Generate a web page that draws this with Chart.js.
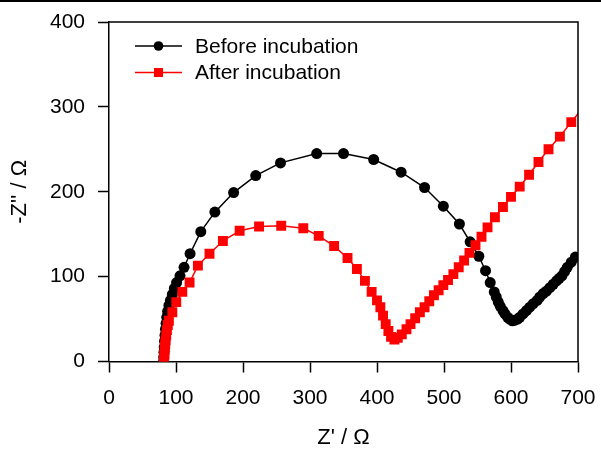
<!DOCTYPE html>
<html>
<head>
<meta charset="utf-8">
<script src="https://cdn.jsdelivr.net/npm/chart.js@4.4.0/dist/chart.umd.min.js"></script>
<style>
  html, body { margin: 0; padding: 0; background: #fff; }
  #wrap { width: 601px; height: 452px; position: relative; }
</style>
</head>
<body>
<div id="wrap"><canvas id="nyquist" width="601" height="452"></canvas></div>
<script>
// Z' (real part) and -Z'' (imaginary part), ohm
var beforeX = [81.5, 81.7, 82, 82.4, 82.9, 83.6, 84.3, 85.2, 86.2, 87.5, 89.4, 91.7, 94.5, 97.5, 100.9, 106, 112, 121, 137, 158,
  186, 219, 256, 310, 350, 395, 436, 471, 499, 523, 539, 552, 562, 569, 575, 578, 581, 584, 588, 591,
  595, 598, 602, 605, 610, 613, 618, 623, 628, 633, 639, 643, 648, 653, 658, 663, 668, 672, 676, 680,
  684, 690, 696];
var beforeY = [0, 5, 11, 17, 24, 31, 38, 45, 52, 59, 66, 72, 79, 86, 93, 101, 111, 127, 153, 176,
  199, 219, 234, 245, 245, 238, 223, 205, 183, 162, 141, 124, 107, 93, 82, 76, 70, 65, 60, 56,
  52, 50, 48, 48.5, 50, 52, 56, 60, 64, 68, 72, 76, 80, 83, 87, 91, 95, 98, 101, 106,
  111, 117, 123];

var afterX = [82, 82.3, 82.6, 83, 83.5, 84, 84.5, 85.4, 86.4, 87.8, 89.4, 94.5, 100.4, 109.4, 120.3, 132.7, 150, 170, 195, 224,
  257, 290, 313, 336, 356, 370, 382, 392, 400, 405, 409, 413, 417, 421, 426, 431, 437, 444, 450, 457,
  464, 471, 478, 485, 492, 499, 506, 514, 522, 530, 538, 547, 556, 565, 576, 588, 600, 613, 627, 641,
  656, 673, 690, 708];
var afterY = [0, 4, 8, 13, 17, 21, 25, 31, 37, 43, 48, 58, 70, 82, 93, 113, 127, 142, 154, 159,
  160, 157, 148, 136, 122, 109, 95, 82, 72, 64, 54, 44, 36, 29, 26, 28, 32, 38, 44, 51,
  58, 64, 71, 78, 84, 90, 96, 103, 111, 119, 128, 137, 147, 158, 170, 182, 194, 206, 220, 235,
  250, 265, 282, 300];

var seriesNames = ['Before incubation', 'After incubation'];
var xTicks = [0, 100, 200, 300, 400, 500, 600, 700];
var yTicks = [0, 100, 200, 300, 400];

function pairs(xs, ys) {
  return xs.map(function (x, i) { return { x: x, y: ys[i] }; });
}

Chart.defaults.font.family = '"Liberation Sans", Arial, sans-serif';
Chart.defaults.font.size = 21;
Chart.defaults.color = '#000';

// box on top/right, page rule, and the inset legend
var framePlugin = {
  id: 'frame',
  afterDraw: function (chart) {
    var ctx = chart.ctx;
    var a = chart.chartArea;
    ctx.save();
    ctx.fillStyle = '#000';
    ctx.fillRect(0, 0, chart.width, 2);

    ctx.strokeStyle = '#000';
    ctx.lineWidth = 1.5;
    ctx.beginPath();
    ctx.moveTo(a.left, a.top);
    ctx.lineTo(a.right, a.top);
    ctx.lineTo(a.right, a.bottom);
    ctx.stroke();

    var rows = [
      { y: 46, color: '#000', shape: 'circle' },
      { y: 72.5, color: '#ff0000', shape: 'rect' }
    ];
    ctx.font = '21px "Liberation Sans", Arial, sans-serif';
    ctx.textBaseline = 'middle';
    rows.forEach(function (r, i) {
      ctx.strokeStyle = r.color;
      ctx.fillStyle = r.color;
      ctx.lineWidth = 1.5;
      ctx.beginPath();
      ctx.moveTo(135, r.y);
      ctx.lineTo(182, r.y);
      ctx.stroke();
      if (r.shape === 'circle') {
        ctx.beginPath();
        ctx.arc(158.5, r.y, 4.8, 0, Math.PI * 2);
        ctx.fill();
      } else {
        ctx.fillRect(154, r.y - 4.5, 9, 9);
      }
      ctx.fillStyle = '#000';
      ctx.fillText(seriesNames[i], 195, r.y + 1);
    });
    ctx.restore();
  }
};

new Chart(document.getElementById('nyquist'), {
  type: 'line',
  data: {
    datasets: [{
      label: seriesNames[0],
      data: pairs(beforeX, beforeY),
      order: 1,
      borderColor: '#000',
      backgroundColor: '#000',
      borderWidth: 1.5,
      pointStyle: 'circle',
      pointRadius: 5.5,
      pointBorderWidth: 0,
      pointHoverRadius: 5.5
    }, {
      label: seriesNames[1],
      data: pairs(afterX, afterY),
      order: 0,
      borderColor: '#ff0000',
      backgroundColor: '#ff0000',
      borderWidth: 1.5,
      pointStyle: 'rect',
      pointRadius: 7,
      pointBorderWidth: 0,
      pointHoverRadius: 7
    }]
  },
  options: {
    responsive: false,
    animation: false,
    events: [],
    layout: { padding: { left: 0, top: 22, right: 23, bottom: 0 } },
    plugins: {
      legend: { display: false },
      tooltip: { enabled: false }
    },
    scales: {
      x: {
        type: 'linear',
        min: 0,
        max: 700,
        afterFit: function (s) { s.height = 90.5; s.paddingLeft = 0; s.paddingRight = 0; },
        afterBuildTicks: function (s) { s.ticks = xTicks.map(function (v) { return { value: v }; }); },
        border: { display: true, color: '#000', width: 1.5 },
        grid: { drawOnChartArea: false, drawTicks: true, tickLength: 11, tickColor: '#000', tickWidth: 1.5 },
        ticks: { padding: 13, maxRotation: 0, font: { size: 21 } },
        title: { display: true, text: "Z' / Ω", font: { size: 22 }, padding: { top: 0, bottom: 1 } }
      },
      y: {
        type: 'linear',
        min: 0,
        max: 400,
        afterFit: function (s) { s.width = 109; s.paddingTop = 0; s.paddingBottom = 0; },
        afterBuildTicks: function (s) { s.ticks = yTicks.map(function (v) { return { value: v }; }); },
        border: { display: true, color: '#000', width: 1.5 },
        grid: { drawOnChartArea: false, drawTicks: true, tickLength: 11, tickColor: '#000', tickWidth: 1.5 },
        ticks: { padding: 13, font: { size: 21 } },
        title: { display: true, text: "-Z'' / Ω", font: { size: 22 }, padding: { top: 7, bottom: 0 } }
      }
    }
  },
  plugins: [framePlugin]
});
</script>
</body>
</html>
